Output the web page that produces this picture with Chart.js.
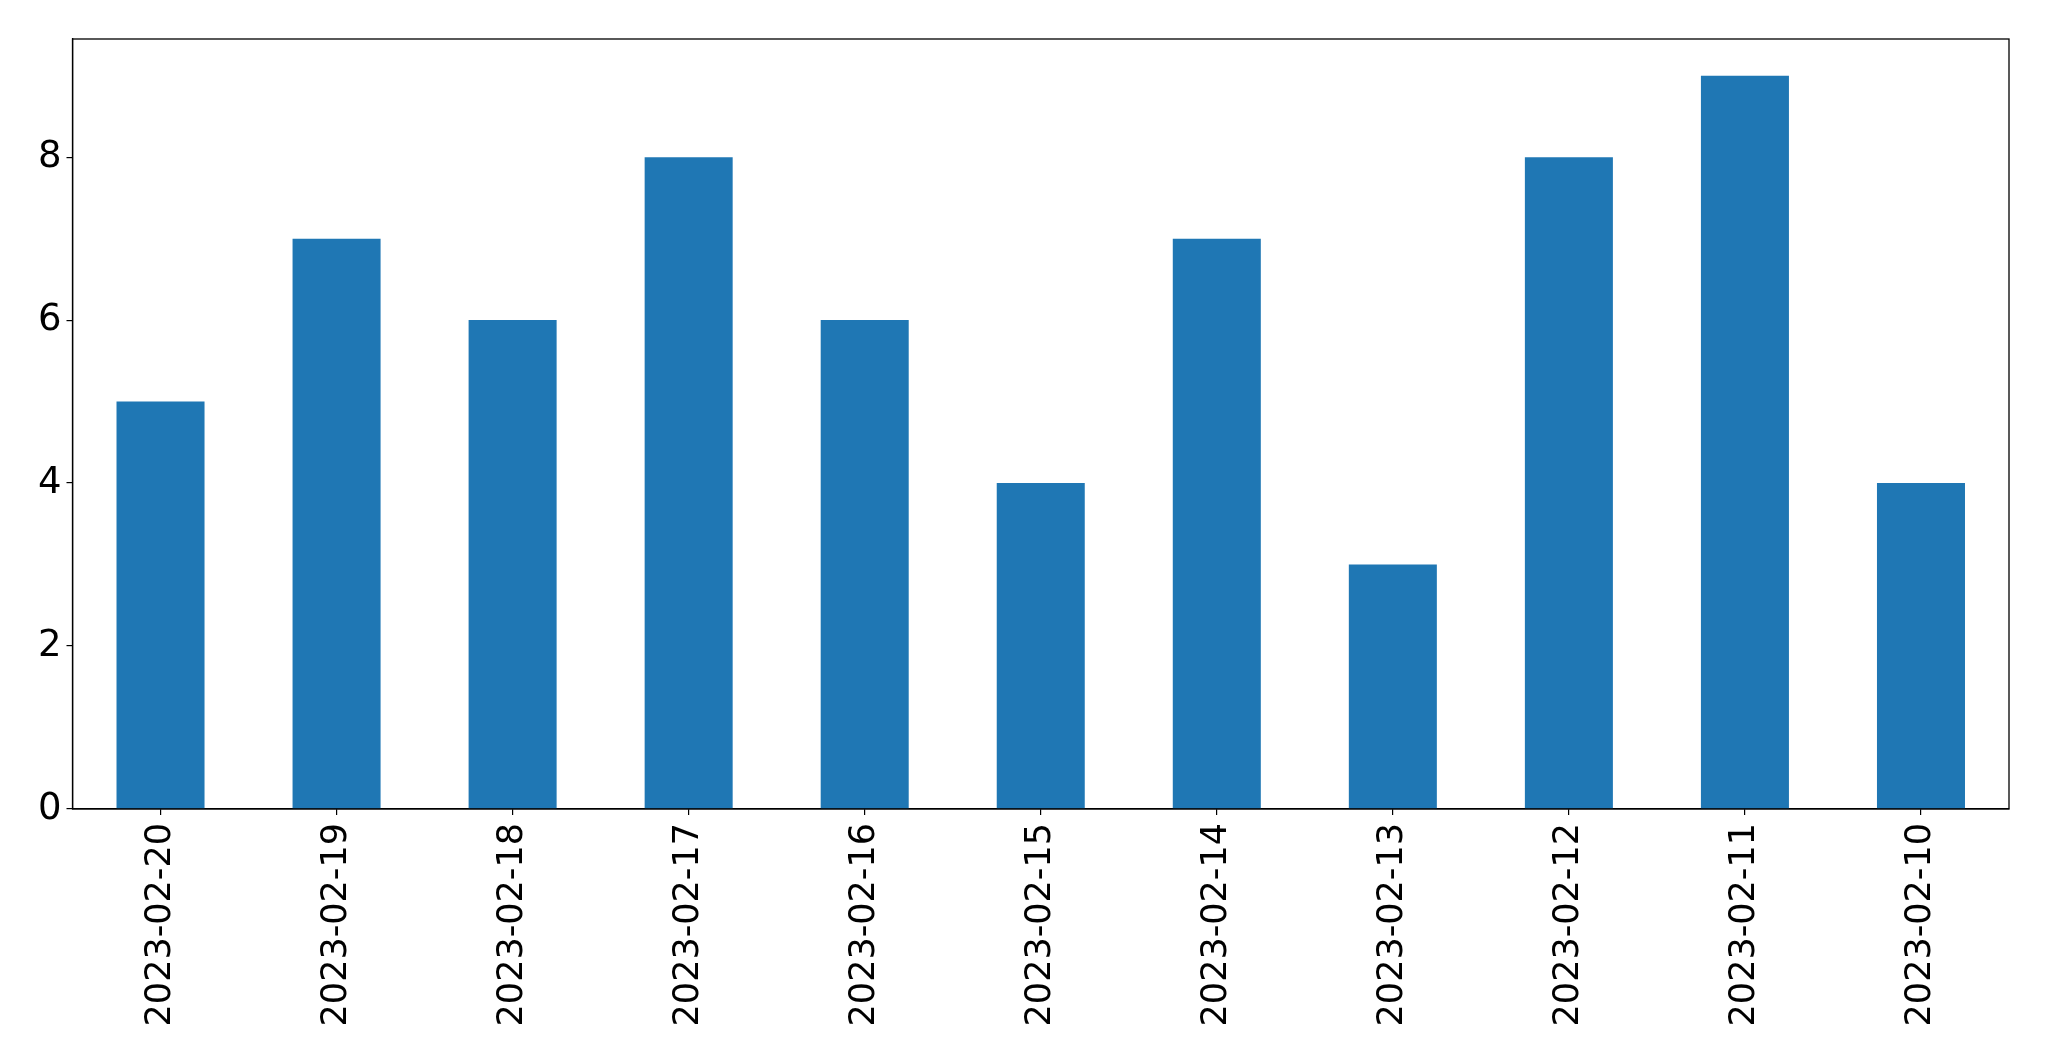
<!DOCTYPE html>
<html>
<head>
<meta charset="utf-8">
<script src="https://cdn.jsdelivr.net/npm/chart.js@4/dist/chart.umd.min.js"></script>
<style>
  html, body { margin: 0; padding: 0; background: #fff; }
  #wrap { width: 2049px; height: 1061px; }
</style>
</head>
<body>
<div id="wrap"><canvas id="chart" width="2049" height="1061"></canvas></div>
<script>
const dates = ['2023-02-20', '2023-02-19', '2023-02-18', '2023-02-17', '2023-02-16', '2023-02-15',
  '2023-02-14', '2023-02-13', '2023-02-12', '2023-02-11', '2023-02-10'];
const counts = [5, 7, 6, 8, 6, 4, 7, 3, 8, 9, 4];
const yTicks = [0, 2, 4, 6, 8];

// matplotlib-style box around the plot area
const frame = {
  id: 'frame',
  afterDraw(chart) {
    const { ctx, chartArea: a } = chart;
    ctx.save();
    ctx.strokeStyle = '#000';
    ctx.lineWidth = 1.3;
    ctx.strokeRect(a.left, a.top, a.right - a.left, a.bottom - a.top);
    ctx.restore();
  }
};

new Chart(document.getElementById('chart'), {
  type: 'bar',
  data: {
    labels: dates,
    datasets: [{
      data: counts,
      backgroundColor: '#1f77b4',
      barPercentage: 0.5,
      categoryPercentage: 1.0
    }]
  },
  plugins: [frame],
  options: {
    responsive: false,
    animation: false,
    layout: { padding: { top: 39, right: 40, left: 0, bottom: 0 } },
    plugins: { legend: { display: false }, tooltip: { enabled: false } },
    scales: {
      x: {
        offset: true,
        grid: { display: true, offset: false, drawOnChartArea: false, drawTicks: true, tickLength: 6, color: '#000', lineWidth: 1.2 },
        border: { display: true, color: '#000', width: 1.3 },
        ticks: {
          color: '#000',
          font: { family: 'DejaVu Sans', size: 35 },
          minRotation: 90,
          maxRotation: 90,
          padding: 8,
          autoSkip: false
        },
        afterFit(scale) { scale.height = 252; }
      },
      y: {
        min: 0,
        max: 9.45,
        grid: { display: true, drawOnChartArea: false, drawTicks: true, tickLength: 6, color: '#000', lineWidth: 1.2 },
        border: { display: true, color: '#000', width: 1.3 },
        ticks: {
          color: '#000',
          font: { family: 'DejaVu Sans', size: 37 },
          stepSize: 2,
          padding: 5
        },
        afterBuildTicks(scale) {
          scale.ticks = yTicks.map(v => ({ value: v }));
        },
        afterFit(scale) { scale.width = 72.5; }
      }
    }
  }
});
</script>
</body>
</html>
